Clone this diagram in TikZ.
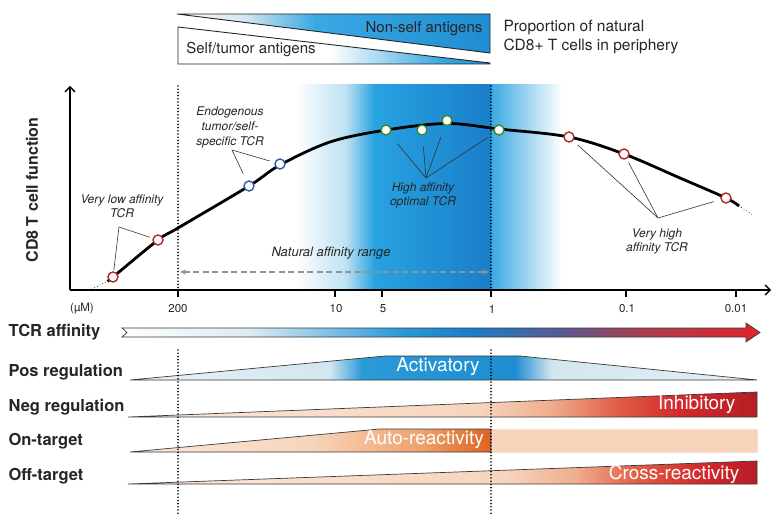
\documentclass[tikz,border=0pt]{standalone}
\usepackage{fontspec}
\setmainfont{TeX Gyre Heros}
\usetikzlibrary{arrows.meta}
\definecolor{tred}{HTML}{B3282A}
\definecolor{tblue}{HTML}{2F5EA8}
\definecolor{tgreen}{HTML}{3C8A2C}
\definecolor{leadgray}{HTML}{333333}
\definecolor{txtgray}{HTML}{262626}
\definecolor{outgray}{HTML}{3A3A3A}
\definecolor{bandA}{HTML}{27A2E1}
\definecolor{bandB}{HTML}{1A7EC9}
\definecolor{bandC}{HTML}{3AA9E3}
\definecolor{bandL}{HTML}{BFE2F3}
\definecolor{blueM}{HTML}{2A9AD8}
\definecolor{blueD}{HTML}{1F8DD1}
\definecolor{lblue}{HTML}{D3E6EF}
\definecolor{peach}{HTML}{F7D5BD}
\definecolor{peachL}{HTML}{FBE7DA}
\definecolor{salmon}{HTML}{EFAE8E}
\definecolor{redM}{HTML}{E05A45}
\definecolor{redS}{HTML}{D4282B}
\definecolor{redD}{HTML}{B41D25}
\definecolor{oraL}{HTML}{EEA26F}
\definecolor{oraD}{HTML}{DE621F}
\tikzset{
  tcrpt/.style={circle, draw, fill=white, line width=1.4pt, minimum size=10pt, inner sep=0pt},
  redpt/.style={tcrpt, draw=tred},
  bluept/.style={tcrpt, draw=tblue},
  greenpt/.style={tcrpt, draw=tgreen},
  leader/.style={draw=leadgray, line width=0.6pt},
  italab/.style={font=\itshape\fontsize{12}{14}\selectfont, align=center, text=txtgray},
  rowlab/.style={font=\bfseries\fontsize{16.5}{18}\selectfont, anchor=west, text=txtgray},
  whitelab/.style={font=\fontsize{19}{21}\selectfont, text=white},
  ticklab/.style={font=\fontsize{11.5}{13}\selectfont, text=txtgray},
  vdot/.style={line width=1.8pt, dash pattern=on 0pt off 3.2pt, line cap=round},
  outl/.style={draw=outgray, line width=0.7pt},
  tickmark/.style={line width=1.2pt}
}
\begin{document}
\begin{tikzpicture}[x=1pt,y=-1pt]
\useasboundingbox (0,0) rectangle (780,516);
\fill[white] (0,0) rectangle (780,516);

% ---------- top antigen triangles
\begin{scope}
  \clip (177,14) -- (490,14) -- (490,53) -- cycle;
  \shade[left color=white, right color=lblue] (177,10) rectangle (245,60);
  \shade[left color=lblue, right color=bandC] (245,10) rectangle (315,60);
  \shade[left color=bandC, right color=blueD] (315,10) rectangle (491,60);
\end{scope}
\draw[draw=txtgray, line width=0.9pt] (177,14) -- (490,14) -- (490,53) -- cycle;
\begin{scope}
  \clip (178,27) -- (490,63) -- (490,64) -- (178,64) -- cycle;
  \fill[white] (178,20) rectangle (330,70);
  \shade[left color=white, right color=bandC] (330,20) rectangle (440,70);
  \shade[left color=bandC, right color=blueD] (440,20) rectangle (491,70);
\end{scope}
\draw[draw=txtgray, line width=0.9pt] (178,27) -- (490,63) -- (490,64) -- (178,64) -- cycle;
\node[font=\fontsize{15}{17}\selectfont, text=txtgray] (nonself) at (424,29) {Non-self antigens};
\node[font=\fontsize{15}{17}\selectfont, text=txtgray] (selftum) at (251,50) {Self/tumor antigens};
\node[font=\fontsize{15.5}{19}\selectfont, text=txtgray, anchor=west, align=left] (propn) at (500,37)
  {Proportion of natural\\CD8+ T cells in periphery};

% ---------- blue band
\shade[left color=white, right color=bandL] (295,85) rectangle (345,290);
\shade[left color=bandL, right color=bandA] (345,85) rectangle (375,290);
\shade[left color=bandA, right color=bandB] (375,85) rectangle (491,290);
\shade[left color=bandC, right color=white] (491,85) rectangle (562,290);

% ---------- axes
\coordinate (orig) at (70,290);
\coordinate (ytop) at (70,86);
\coordinate (xend) at (771,290);
\draw[line width=1.3pt, -{Straight Barb[length=5pt,width=10pt]}] (orig) -- (ytop);
\draw[line width=1.3pt, -{Straight Barb[length=5pt,width=10pt]}] (orig) -- (xend);
\node[rotate=90, font=\bfseries\fontsize{16}{18}\selectfont, text=txtgray] (ylab) at (32,190) {CD8 T cell function};

\foreach \xx in {178,335,382,491,626,736} \draw[tickmark] (\xx,290) -- (\xx,297);
\node[ticklab] (tmu) at (82,309) {(µM)};
\node[ticklab] (t200) at (178,309) {200};
\node[ticklab] (t10) at (336,309) {10};
\node[ticklab] (t5) at (383,309) {5};
\node[ticklab] (t1) at (492,309) {1};
\node[ticklab] (t01) at (627,309) {0.1};
\node[ticklab] (t001) at (736,309) {0.01};

% ---------- dotted vertical lines
\draw[vdot] (178,86) -- (178,290);
\draw[vdot] (491,86) -- (491,290);

% ---------- natural affinity range
\node[italab, font=\itshape\fontsize{13}{15}\selectfont] (natrange) at (331,253) {Natural affinity range};
\coordinate (nl) at (180,272);
\coordinate (nr) at (489,272);
\draw[draw=gray!85, line width=1.3pt, dash pattern=on 6pt off 3.5pt,
      {Stealth[length=6pt,width=5pt]}-{Stealth[length=6pt,width=5pt]}] (nl) -- (nr);

% ---------- curve
\draw[line width=0.9pt, dash pattern=on 0pt off 3pt, line cap=round] (92,289) -- (108,281);
\draw[line width=0.9pt, dash pattern=on 0pt off 3pt, line cap=round] (739,206) -- (753,215);
\draw[line width=2.8pt] plot[smooth, tension=0.55] coordinates
 {(108,281) (113,277) (158,240) (178,228) (249,186) (280,165) (330,142) (386,130) (447,123.5) (499,129) (569,137) (624,154) (680,178) (726,198) (739,206)};

% ---------- TCR points
\node[redpt] (r1) at (113,277) {};
\node[redpt] (r2) at (158,240) {};
\node[bluept] (b1) at (249,186) {};
\node[bluept] (b2) at (280,164) {};
\node[greenpt] (g1) at (386,130) {};
\node[greenpt] (g2) at (422,130) {};
\node[greenpt] (g3) at (447,120.5) {};
\node[greenpt] (g4) at (499,130) {};
\node[redpt] (r3) at (569,137) {};
\node[redpt] (r4) at (624,154) {};
\node[redpt] (r5) at (726,198) {};

% ---------- labels and leaders
\node[italab] (lowlab) at (122,206) {Very low affinity\\TCR};
\coordinate (vlow) at (119,227);
\draw[leader, shorten >=1pt] (vlow) -- (r1);
\draw[leader, shorten >=3pt] (vlow) -- (r2);

\node[italab, font=\itshape\fontsize{12}{15}\selectfont] (endolab) at (230,127) {Endogenous\\tumor/self-\\specific TCR};
\coordinate (vendo) at (232,150);
\draw[leader, shorten >=8pt] (vendo) -- (b1);
\draw[leader, shorten >=5pt] (vendo) -- (b2);

\node[italab] (highlab) at (423,195) {High affinity\\optimal TCR};
\coordinate (vhigh) at (426,178);
\draw[leader, shorten >=12pt] (vhigh) -- (g1);
\draw[leader, shorten >=11pt] (vhigh) -- (g2);
\draw[leader, shorten >=12pt] (vhigh) -- (g3);
\draw[leader, shorten >=8pt] (vhigh) -- (g4);

\node[italab] (vhighlab) at (657,241) {Very high\\affinity TCR};
\coordinate (vvh) at (658,218);
\draw[leader, shorten >=6pt] (vvh) -- (r3);
\draw[leader, shorten >=4pt] (vvh) -- (r4);
\draw[leader, shorten >=7pt] (vvh) -- (r5);

% ---------- TCR affinity arrow
\node[rowlab] (lab0) at (5,332) {TCR affinity};
\begin{scope}
  \clip (122,328) -- (746,328) -- (746,323) -- (760,332.5) -- (746,342) -- (746,337) -- (122,337) -- (127,332.5) -- cycle;
  \shade[left color=white, right color=lblue!80] (120,320) rectangle (250,345);
  \shade[left color=lblue!80, right color=blueM] (250,320) rectangle (400,345);
  \shade[left color=blueM, right color=bandB] (400,320) rectangle (470,345);
  \shade[left color=bandB, right color={rgb,255:red,90;green,90;blue,148}] (470,320) rectangle (560,345);
  \shade[left color={rgb,255:red,90;green,90;blue,148}, right color={rgb,255:red,168;green,64;blue,79}] (560,320) rectangle (640,345);
  \shade[left color={rgb,255:red,168;green,64;blue,79}, right color={rgb,255:red,226;green,34;blue,42}] (640,320) rectangle (761,345);
\end{scope}
\draw[outl] (122,328) -- (746,328) -- (746,323) -- (760,332.5) -- (746,342) -- (746,337) -- (122,337) -- (127,332.5) -- cycle;

% ---------- Pos regulation
\node[rowlab] (lab1) at (5,372) {Pos regulation};
\begin{scope}
  \clip (130,380) -- (385,356) -- (520,356) -- (757,380) -- cycle;
  \shade[left color=lblue!50, right color=lblue] (129,350) rectangle (330,385);
  \shade[left color=lblue, right color=blueM] (330,350) rectangle (362,385);
  \shade[left color=blueM, right color=blueD] (362,350) rectangle (515,385);
  \shade[left color=blueD, right color=lblue] (515,350) rectangle (552,385);
  \shade[left color=lblue, right color=lblue!60] (552,350) rectangle (758,385);
\end{scope}
\draw[outl] (130,380) -- (385,356) -- (520,356) -- (757,380) -- cycle;
\node[whitelab] (act) at (438,367) {Activatory};

% ---------- Neg regulation
\node[rowlab] (lab2) at (5,407) {Neg regulation};
\begin{scope}
  \clip (128,417) -- (757,392) -- (757,417) -- cycle;
  \shade[left color=peachL, right color=peach] (127,388) rectangle (480,420);
  \shade[left color=peach, right color=salmon] (480,388) rectangle (550,420);
  \shade[left color=salmon, right color=redM] (550,388) rectangle (620,420);
  \shade[left color=redM, right color=redS] (620,388) rectangle (680,420);
  \shade[left color=redS, right color=redD] (680,388) rectangle (758,420);
\end{scope}
\draw[outl] (128,417) -- (757,392) -- (757,417) -- cycle;
\node[whitelab, anchor=east] (inh) at (739,405) {Inhibitory};

% ---------- On-target
\node[rowlab] (lab3) at (5,441) {On-target};
\fill[peach, draw=peach!85!brown!60, line width=0.5pt] (492,429) rectangle (757,452);
\begin{scope}
  \clip (130,452) -- (380,429) -- (491,429) -- (491,452) -- cycle;
  \shade[left color=peachL, right color=peach] (129,425) rectangle (310,455);
  \shade[left color=peach, right color=oraL] (310,425) rectangle (420,455);
  \shade[left color=oraL, right color=oraD] (420,425) rectangle (492,455);
\end{scope}
\draw[outl] (130,452) -- (380,429) -- (491,429) -- (491,452) -- cycle;
\node[whitelab] (auto) at (424,440) {Auto-reactivity};

% ---------- Off-target
\node[rowlab] (lab4) at (5,476) {Off-target};
\begin{scope}
  \clip (128,484) -- (757,461) -- (757,484) -- cycle;
  \shade[left color=peachL, right color=peach] (127,455) rectangle (505,488);
  \shade[left color=peach, right color=salmon] (505,455) rectangle (575,488);
  \shade[left color=salmon, right color=redM] (575,455) rectangle (640,488);
  \shade[left color=redM, right color=redS] (640,455) rectangle (700,488);
  \shade[left color=redS, right color=redD] (700,455) rectangle (758,488);
\end{scope}
\draw[outl] (128,484) -- (757,461) -- (757,484) -- cycle;
\node[whitelab, anchor=east] (cross) at (743,474) {Cross-reactivity};

% dotted lines over rows
\draw[vdot] (178,350) -- (178,516);
\draw[vdot] (491,350) -- (491,516);
\end{tikzpicture}
\end{document}
